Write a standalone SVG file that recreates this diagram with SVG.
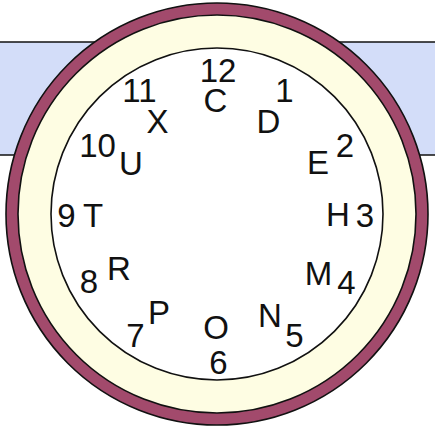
<svg xmlns="http://www.w3.org/2000/svg" width="435" height="432" viewBox="0 0 435 432">
<style>
.ln{stroke:#111;stroke-width:1.6}
.t{font-family:"Liberation Sans",Arial,sans-serif;font-size:33px;fill:#111;text-anchor:middle}
</style>
<rect width="435" height="432" fill="#fff"/>
<g id="band">
<rect x="0" y="42" width="435" height="113" fill="#d3ddf9"/>
<line class="ln" x1="0" y1="42" x2="435" y2="42"/>
<line class="ln" x1="0" y1="155" x2="435" y2="155"/>
</g>
<g id="clock">
<circle class="ln" cx="217" cy="214" r="211" fill="#a24a6c"/>
<circle class="ln" cx="217" cy="214" r="199" fill="#fefde3"/>
<circle class="ln" cx="217" cy="214" r="166" fill="#fff"/>
</g>
<g id="labels">
<g id="h12"><text class="t" x="218" y="82">12</text><text class="t" x="215.5" y="112">C</text></g>
<g id="h1"><text class="t" x="284.5" y="102">1</text><text class="t" x="268.5" y="133">D</text></g>
<g id="h2"><text class="t" x="345" y="157">2</text><text class="t" x="318" y="174">E</text></g>
<g id="h3"><text class="t" x="365" y="226.5">3</text><text class="t" x="338" y="226">H</text></g>
<g id="h4"><text class="t" x="346.5" y="294">4</text><text class="t" x="318.5" y="285">M</text></g>
<g id="h5"><text class="t" x="294.5" y="346.5">5</text><text class="t" x="270" y="327">N</text></g>
<g id="h6"><text class="t" x="218.5" y="373.5">6</text><text class="t" x="216" y="338.5">O</text></g>
<g id="h7"><text class="t" x="135.5" y="347">7</text><text class="t" x="159" y="324">P</text></g>
<g id="h8"><text class="t" x="89" y="292.5">8</text><text class="t" x="119" y="280">R</text></g>
<g id="h9"><text class="t" x="66.5" y="227">9</text><text class="t" x="93" y="227">T</text></g>
<g id="h10"><text class="t" x="97.5" y="157">10</text><text class="t" x="131" y="175">U</text></g>
<g id="h11"><text class="t" x="139.5" y="102">11</text><text class="t" x="157.5" y="133">X</text></g>
</g>
</svg>
